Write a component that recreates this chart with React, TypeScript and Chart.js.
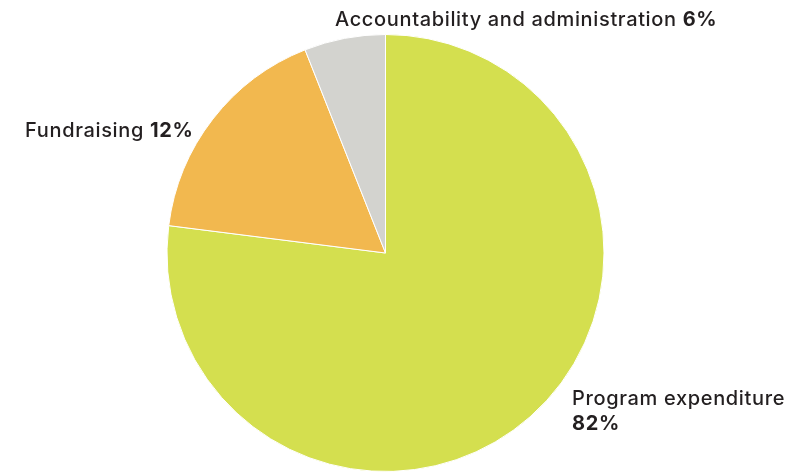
import React, { useEffect, useRef } from "react";
import { Chart, registerables } from "chart.js";

Chart.register(...registerables);

const categories = ["Program expenditure", "Fundraising", "Accountability and administration"];
const values = [77, 17, 6];
const percentLabels = ["82%", "12%", "6%"];
const colors = ["#D4DF4F", "#F2B84F", "#D3D3CF"];

const FONT = "Inter, 'Liberation Sans', Arial, sans-serif";

const labelPlugin = {
  id: "sliceLabels",
  afterDraw(chart: any) {
    const ctx = chart.ctx;
    ctx.save();
    ctx.fillStyle = "#231F20";
    ctx.textBaseline = "alphabetic";
    ctx.textAlign = "left";
    (ctx as any).letterSpacing = "0.65px";
    const drawPair = (name: string, pct: string, x: number, y: number) => {
      ctx.font = `500 20px ${FONT}`;
      ctx.fillText(name + " ", x, y);
      const w = ctx.measureText(name + " ").width;
      ctx.font = `700 20px ${FONT}`;
      ctx.fillText(pct, x + w, y);
    };
    drawPair(categories[2], percentLabels[2], 335, 26);
    drawPair(categories[1], percentLabels[1], 25, 137);
    ctx.font = `500 20px ${FONT}`;
    ctx.fillText(categories[0], 572, 405);
    ctx.font = `700 20px ${FONT}`;
    ctx.fillText(percentLabels[0], 572, 430);
    ctx.restore();
  },
};

export default function App() {
  const ref = useRef<HTMLCanvasElement>(null);
  useEffect(() => {
    if (!ref.current) return;
    const chart = new Chart(ref.current, {
      type: "pie",
      data: {
        labels: categories,
        datasets: [
          {
            data: values,
            backgroundColor: colors,
            borderColor: "#ffffff",
            borderWidth: 1,
          },
        ],
      },
      options: {
        animation: false,
        responsive: false,
        maintainAspectRatio: false,
        layout: { padding: { left: 166, right: 195, top: 34, bottom: 1 } },
        plugins: {
          legend: { display: false },
          tooltip: { enabled: false },
        },
      },
      plugins: [labelPlugin],
    });
    return () => chart.destroy();
  }, []);
  return (
    <div style={{ position: "fixed", left: 0, top: 0, width: 800, height: 473, background: "#fff" }}>
      <canvas ref={ref} width={800} height={473} style={{ width: 800, height: 473 }} />
    </div>
  );
}
